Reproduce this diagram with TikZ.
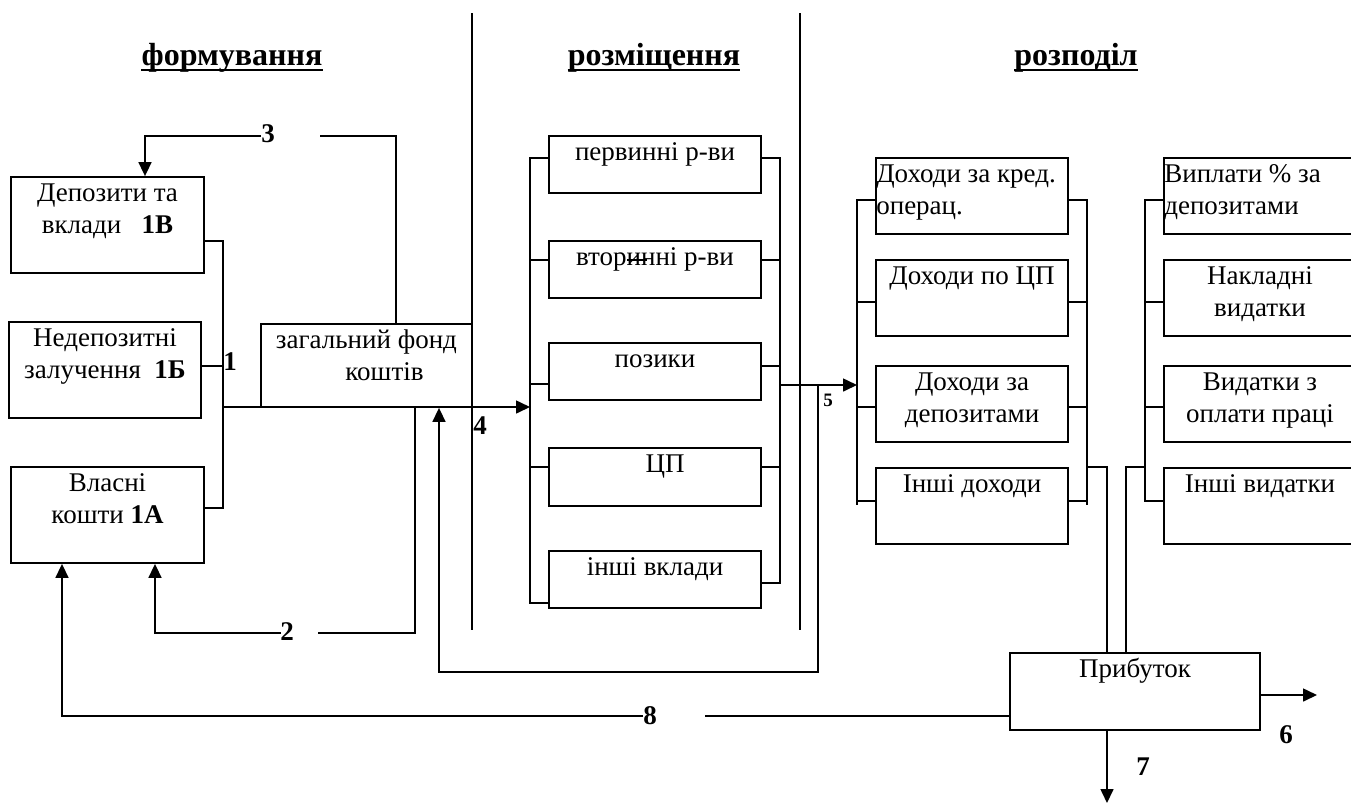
\documentclass[tikz,border=0pt]{standalone}
\usepackage{fontspec}
\setmainfont{Liberation Serif}
\usetikzlibrary{arrows.meta}

% rectangle given by its corners: name, x1, y1, x2, y2
\newcommand\boxat[5]{%
  \node[blk, minimum width={(#4)-(#2)}, minimum height={(#5)-(#3)}]
    (#1) at ({((#2)+(#4))/2},{((#3)+(#5))/2}) {};}

\begin{document}
\begin{tikzpicture}[x=1pt,y=-1pt,
  blk/.style={draw, line width=1.8pt, inner sep=0pt},
  ln/.style={line width=1.6pt},
  arr/.style={ln, -{Triangle[length=14pt,width=13pt]}},
  sep/.style={line width=1.4pt},
  txt/.style={font=\fontsize{27}{31.7}\selectfont, inner sep=0pt, align=center},
  txtl/.style={txt, align=left},
  num/.style={font=\fontsize{27}{30}\selectfont\bfseries, inner sep=0pt},
  numsm/.style={font=\fontsize{19}{22}\selectfont\bfseries, inner sep=0pt},
  head/.style={font=\fontsize{32}{36}\selectfont\bfseries, inner sep=0pt, anchor=base},
]
\useasboundingbox (0,0) rectangle (1351,804);
\clip (0,0) rectangle (1351,804);

% column headings
\node[head] (h1) at (232,65) {формування};
\node[head] (h2) at (654,65) {розміщення};
\node[head] (h3) at (1076,65) {розподіл};
\foreach \h in {h1,h2,h3}
  \draw[line width=2.2pt] ([yshift=-5pt]\h.base west) -- ([yshift=-5pt]\h.base east);

% separators between the stages
\draw[sep] (472,13) -- (472,630);
\draw[sep] (800,13) -- (800,630);

% sources of funds
\boxat{dep}{11}{177}{204}{273}
\boxat{ned}{9}{322}{201}{418}
\boxat{vl}{11}{467}{204}{563}
\boxat{fund}{261}{324}{472}{407}
\node[txt, anchor=north] at ([yshift=-3pt]dep.north) {\strut Депозити та\\\strut вклади\ \ \ \textbf{1В}};
\node[txt, anchor=north] at ([yshift=-3pt]ned.north) {\strut Недепозитні\\\strut залучення\ \ \textbf{1Б}};
\node[txt, anchor=north] at ([yshift=-3pt]vl.north) {\strut Власні\\\strut кошти \textbf{1А}};
\node[txt, anchor=north] at ([yshift=-3pt]fund.north) {\strut загальний фонд\\\strut\hspace*{36pt}коштів};

% placements
\boxat{p1}{549}{136}{761}{193}
\boxat{p2}{549}{241}{761}{298}
\boxat{p3}{549}{343}{761}{400}
\boxat{p4}{549}{448}{761}{506}
\boxat{p5}{549}{551}{761}{608}
\node[txt, anchor=north] at ([yshift=-3pt]p1.north) {\strut первинні р-ви};
\node[txt, anchor=north] at ([yshift=-3pt]p2.north) {\strut вторинні р-ви};
\node[txt, anchor=north] at ([yshift=-3pt]p3.north) {\strut позики};
\node[txt, anchor=north] at ([xshift=10pt,yshift=-3pt]p4.north) {\strut ЦП};
\node[txt, anchor=north] at ([yshift=-3pt]p5.north) {\strut інші вклади};
\draw[line width=1.2pt] (627,260) -- (647,260);

% incomes
\boxat{d1}{876}{158}{1068}{234}
\boxat{d2}{876}{260}{1068}{336}
\boxat{d3}{876}{366}{1068}{442}
\boxat{d4}{876}{468}{1068}{544}
\node[txtl, anchor=north west] at ([xshift=1pt,yshift=-3pt]d1.north west) {\strut Доходи за кред.\\\strut операц.};
\node[txt, anchor=north] at ([yshift=-3pt]d2.north) {\strut Доходи по ЦП};
\node[txt, anchor=north] at ([yshift=-3pt]d3.north) {\strut Доходи за\\\strut депозитами};
\node[txt, anchor=north] at ([yshift=-3pt]d4.north) {\strut Інші доходи};

% expenses
\boxat{v1}{1164}{158}{1356}{234}
\boxat{v2}{1164}{260}{1356}{336}
\boxat{v3}{1164}{366}{1356}{442}
\boxat{v4}{1164}{468}{1356}{544}
\node[txtl, anchor=north west] at ([xshift=1pt,yshift=-3pt]v1.north west) {\strut Виплати \% за\\\strut депозитами};
\node[txt, anchor=north] at ([yshift=-3pt]v2.north) {\strut Накладні\\\strut видатки};
\node[txt, anchor=north] at ([yshift=-3pt]v3.north) {\strut Видатки з\\\strut оплати праці};
\node[txt, anchor=north] at ([yshift=-3pt]v4.north) {\strut Інші видатки};

% profit
\boxat{prib}{1010}{653}{1260}{730}
\node[txt, anchor=north] at ([yshift=-3pt]prib.north) {\strut Прибуток};

% 1: sources gathered into the fund
\draw[ln] (dep.east |- 0,241) -| (223,508) -- (vl.east |- 0,508);
\draw[ln] (ned.east |- 0,366) -- (223,366);
\draw[arr] (223,407) -- (530,407);
\node[num] at (230,362) {1};
\node[num] at (480,426) {4};

% 2: fund back to own capital
\draw[ln] (fund.south -| 415,0) |- (318,633);
\draw[arr] (281,633) -| (155,0 |- vl.south);
\node[num] at (287,632) {2};

% 3: fund back to deposits
\draw[ln] (396,0 |- fund.north) |- (320,136);
\draw[arr] (261,136) -| (145,0 |- dep.north);
\node[num] at (268,134) {3};

% placement buses
\draw[ln] (p1.west |- 0,158) -| (530,603) -- (p5.west |- 0,603);
\draw[ln] (530,260) -- (p2.west |- 0,260);
\draw[ln] (530,384) -- (p3.west |- 0,384);
\draw[ln] (530,467) -- (p4.west |- 0,467);
\draw[ln] (p1.east |- 0,158) -| (780,583) -- (p5.east |- 0,583);
\draw[ln] (p2.east |- 0,260) -- (780,260);
\draw[ln] (p3.east |- 0,366) -- (780,366);
\draw[ln] (p4.east |- 0,467) -- (780,467);

% 5: placements to incomes, and return to the fund
\draw[arr] (780,385) -- (857,385);
\node[numsm] at (828,400) {5};
\draw[arr] (818,385) |- (439,672) -- (439,0 |- fund.south);

% income buses
\draw[ln] (d1.west |- 0,200) -| (857,505);
\draw[ln] (857,302) -- (d2.west |- 0,302);
\draw[ln] (857,407) -- (d3.west |- 0,407);
\draw[ln] (857,501) -- (d4.west |- 0,501);
\draw[ln] (d1.east |- 0,200) -| (1087,505);
\draw[ln] (d2.east |- 0,302) -- (1087,302);
\draw[ln] (d3.east |- 0,407) -- (1087,407);
\draw[ln] (d4.east |- 0,501) -- (1087,501);
\draw[ln] (1087,467) -| (1107,0 |- prib.north);

% expense bus
\draw[ln] (v1.west |- 0,200) -| (1145,501) -- (v4.west |- 0,501);
\draw[ln] (1145,302) -- (v2.west |- 0,302);
\draw[ln] (1145,407) -- (v3.west |- 0,407);
\draw[ln] (1145,467) -| (1126,0 |- prib.north);

% distribution of profit
\draw[arr] (prib.east |- 0,695) -- (1317,695);
\node[num] at (1286,735) {6};
\draw[arr] (1107,0 |- prib.south) -- (1107,803);
\node[num] at (1143,767) {7};
\draw[ln] (prib.west |- 0,716) -- (705,716);
\draw[arr] (643,716) -| (62,0 |- vl.south);
\node[num] at (650,716) {8};
\end{tikzpicture}
\end{document}
